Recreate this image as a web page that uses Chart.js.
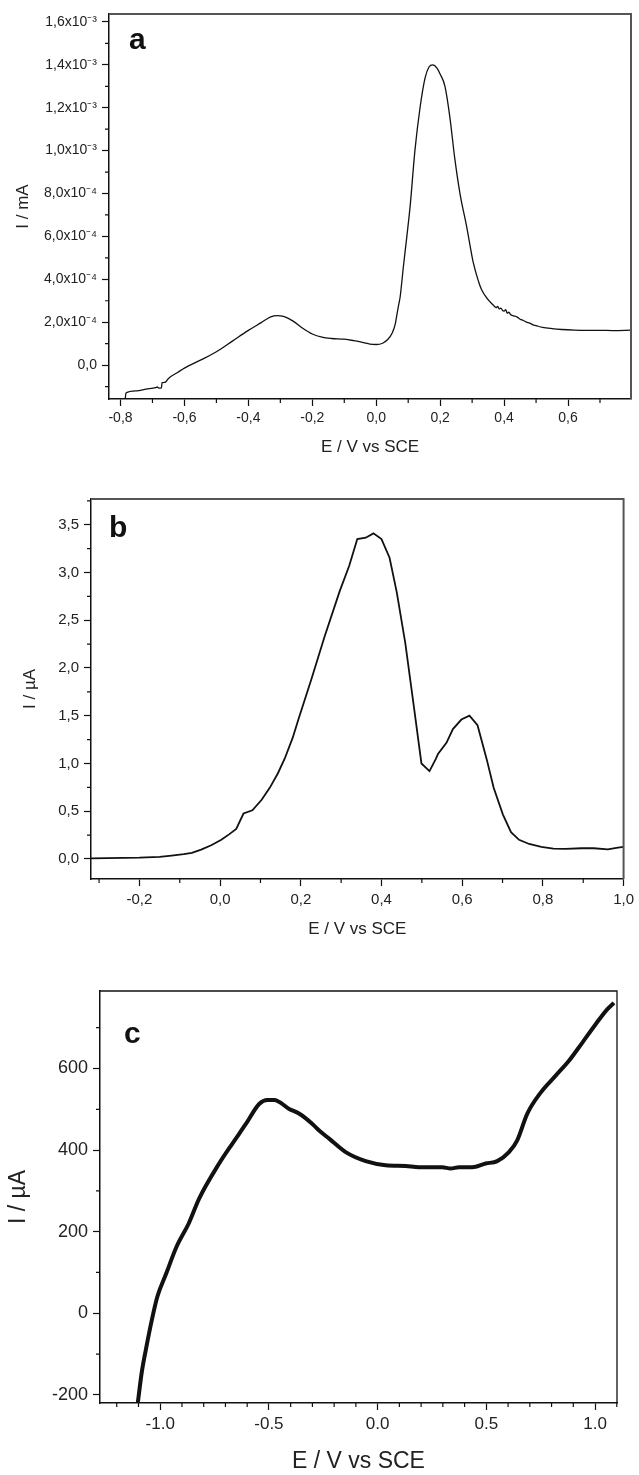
<!DOCTYPE html>
<html>
<head>
<meta charset="utf-8">
<script src="https://cdn.jsdelivr.net/npm/chart.js@4.4.1/dist/chart.umd.min.js"></script>
<style>
  html, body { margin: 0; padding: 0; background: #fff; }
  body { width: 639px; height: 1475px; position: relative; overflow: hidden; }
  canvas { position: absolute; left: 0; }
</style>
</head>
<body>
<canvas id="chart-a" width="639" height="460" style="top:0px"></canvas>
<canvas id="chart-b" width="639" height="500" style="top:460px"></canvas>
<canvas id="chart-c" width="639" height="515" style="top:960px"></canvas>
<script>
// Panel a - potential (V) and current (mA)
const aPotential = [-0.785, -0.783, -0.75, -0.72, -0.69, -0.685, -0.68, -0.672, -0.67, -0.66, -0.65, -0.62, -0.60,
    -0.55, -0.50, -0.45, -0.40, -0.36, -0.33, -0.31, -0.29, -0.26, -0.23, -0.20, -0.17, -0.14, -0.10, -0.07, -0.04,
    -0.02, 0.00, 0.02, 0.035, 0.05, 0.06, 0.064, 0.07, 0.075, 0.085, 0.095, 0.106, 0.121, 0.137, 0.153, 0.165, 0.177,
    0.19, 0.199, 0.215, 0.23, 0.246, 0.262, 0.283, 0.304, 0.32, 0.33, 0.35, 0.366, 0.375, 0.38, 0.385, 0.39, 0.395,
    0.40, 0.405, 0.41, 0.415, 0.42, 0.43, 0.44, 0.45, 0.46, 0.47, 0.48, 0.49, 0.50, 0.52, 0.55, 0.58, 0.62, 0.66,
    0.70, 0.74, 0.797];
const aCurrent = [-1.55e-4, -1.30e-4, -1.20e-4, -1.12e-4, -1.05e-4, -1.02e-4, -1.07e-4, -1.06e-4, -0.82e-4, -0.80e-4,
    -0.62e-4, -0.33e-4, -0.14e-4, 0.23e-4, 0.62e-4, 1.12e-4, 1.62e-4, 1.98e-4, 2.25e-4, 2.31e-4, 2.27e-4, 2.05e-4,
    1.72e-4, 1.45e-4, 1.30e-4, 1.24e-4, 1.21e-4, 1.14e-4, 1.05e-4, 0.98e-4, 0.96e-4, 1.02e-4, 1.18e-4, 1.50e-4,
    1.95e-4, 2.30e-4, 2.80e-4, 3.20e-4, 4.60e-4, 5.90e-4, 7.40e-4, 10.0e-4, 12.0e-4, 13.4e-4, 13.9e-4, 14.0e-4,
    13.85e-4, 13.6e-4, 13.0e-4, 11.6e-4, 9.6e-4, 8.0e-4, 6.45e-4, 4.75e-4, 3.9e-4, 3.5e-4, 3.05e-4, 2.8e-4, 2.68e-4,
    2.74e-4, 2.62e-4, 2.66e-4, 2.55e-4, 2.52e-4, 2.58e-4, 2.42e-4, 2.47e-4, 2.36e-4, 2.30e-4, 2.25e-4, 2.14e-4,
    2.08e-4, 2.00e-4, 1.96e-4, 1.88e-4, 1.84e-4, 1.76e-4, 1.70e-4, 1.66e-4, 1.63e-4, 1.62e-4, 1.62e-4, 1.61e-4,
    1.63e-4];
const aXTicks = [-0.8, -0.6, -0.4, -0.2, 0.0, 0.2, 0.4, 0.6];
const aXMinor = [-0.7, -0.5, -0.3, -0.1, 0.1, 0.3, 0.5, 0.7];
const aYTicks = [0, 2e-4, 4e-4, 6e-4, 8e-4, 1.0e-3, 1.2e-3, 1.4e-3, 1.6e-3];
const aYMinor = [-1e-4, 1e-4, 3e-4, 5e-4, 7e-4, 9e-4, 1.1e-3, 1.3e-3, 1.5e-3];

// Panel b - potential (V) and current (µA)
const bPotential = [-0.32, -0.2, -0.15, -0.12, -0.09, -0.07, -0.047, -0.022, 0.003, 0.023, 0.04, 0.058, 0.08, 0.103,
    0.123, 0.143, 0.16, 0.18, 0.194, 0.226, 0.259, 0.296, 0.32, 0.34, 0.361, 0.38, 0.40, 0.42, 0.438, 0.459, 0.479,
    0.499, 0.519, 0.535, 0.54, 0.561, 0.577, 0.598, 0.618, 0.638, 0.661, 0.678, 0.701, 0.721, 0.741, 0.766, 0.796,
    0.826, 0.856, 0.896, 0.926, 0.961, 0.986, 1.0];
const bCurrent = [0.007, 0.014, 0.022, 0.035, 0.05, 0.063, 0.098, 0.143, 0.2, 0.26, 0.315, 0.476, 0.51, 0.62, 0.745,
    0.895, 1.05, 1.27, 1.46, 1.88, 2.33, 2.80, 3.07, 3.35, 3.365, 3.41, 3.35, 3.155, 2.79, 2.26, 1.635, 1.0, 0.92,
    1.05, 1.1, 1.216, 1.36, 1.46, 1.50, 1.40, 1.04, 0.745, 0.465, 0.28, 0.2, 0.157, 0.126, 0.108, 0.105, 0.112,
    0.112, 0.10, 0.119, 0.126];
const bXTicks = [-0.2, 0.0, 0.2, 0.4, 0.6, 0.8, 1.0];
const bXMinor = [-0.3, -0.1, 0.1, 0.3, 0.5, 0.7, 0.9];
const bYTicks = [0.0, 0.5, 1.0, 1.5, 2.0, 2.5, 3.0, 3.5];
const bYMinor = [0.25, 0.75, 1.25, 1.75, 2.25, 2.75, 3.25, 3.75];

// Panel c - potential (V) and current (µA)
const cPotential = [-1.103, -1.085, -1.066, -1.038, -1.013, -0.972, -0.925, -0.869, -0.821, -0.729, -0.668, -0.606,
    -0.545, -0.507, -0.476, -0.407, -0.36, -0.30, -0.269, -0.223, -0.147, -0.055, 0.037, 0.129, 0.19, 0.297, 0.336,
    0.374, 0.435, 0.497, 0.55, 0.604, 0.642, 0.688, 0.75, 0.818, 0.88, 0.941, 1.002, 1.056, 1.087];
const cCurrent = [-219, -145, -89, -15, 41, 98, 163, 220, 281, 367, 416, 464, 513, 523, 523, 501, 489, 464, 448, 428,
    395, 373, 363, 361, 358, 358, 355, 358, 358, 367, 373, 395, 424, 489, 541, 582, 619, 663, 708, 745, 761];
const cXTicks = [-1.0, -0.5, 0.0, 0.5, 1.0];
const cXMinor = [-1.2, -1.1, -0.9, -0.8, -0.7, -0.6, -0.4, -0.3, -0.2, -0.1, 0.1, 0.2, 0.3, 0.4, 0.6, 0.7, 0.8, 0.9, 1.1];
const cYTicks = [-200, 0, 200, 400, 600];
const cYMinor = [-100, 100, 300, 500, 700];

const FONT = '"Liberation Sans", Arial, sans-serif';
Chart.defaults.font.family = FONT;
Chart.defaults.color = '#222';

const SUP = { '-': '\u207B', '0': '\u2070', '1': '\u00B9', '2': '\u00B2', '3': '\u00B3', '4': '\u2074',
    '5': '\u2075', '6': '\u2076', '7': '\u2077', '8': '\u2078', '9': '\u2079' };

function commaFmt(v) {
    return Number(v).toFixed(1).replace('.', ',');
}

function sciComma(v) {
    if (Math.abs(v) < 1e-12) return '0,0';
    const exp = Math.floor(Math.log10(Math.abs(v)) + 1e-9);
    const mant = v / Math.pow(10, exp);
    const sup = String(exp).split('').map(ch => SUP[ch]).join('');
    return mant.toFixed(1).replace('.', ',') + 'x10' + sup;
}

// Draws minor ticks, the top/right frame and the panel letter
const panelDecor = {
    id: 'panelDecor',
    afterDraw(chart, args, opts) {
        const { ctx, chartArea: area, scales } = chart;
        ctx.save();
        ctx.strokeStyle = '#111';
        ctx.lineWidth = opts.tickWidth;
        ctx.beginPath();
        opts.minorX.forEach(v => {
            const px = scales.x.getPixelForValue(v);
            ctx.moveTo(px, area.bottom);
            ctx.lineTo(px, area.bottom + opts.minorLength);
        });
        opts.minorY.forEach(v => {
            const py = scales.y.getPixelForValue(v);
            if (py < area.top - 0.5 || py > area.bottom + 0.5) return;
            ctx.moveTo(area.left, py);
            ctx.lineTo(area.left - opts.minorLength, py);
        });
        ctx.stroke();

        ctx.strokeStyle = opts.frameColor;
        ctx.lineWidth = opts.frameWidth;
        ctx.beginPath();
        ctx.moveTo(area.left, area.top);
        ctx.lineTo(area.right, area.top);
        ctx.lineTo(area.right, area.bottom);
        ctx.stroke();

        ctx.fillStyle = '#111';
        ctx.font = 'bold ' + opts.letterSize + 'px ' + FONT;
        ctx.textBaseline = 'alphabetic';
        ctx.textAlign = 'left';
        ctx.fillText(opts.letter, area.left + opts.letterX, area.top + opts.letterY);
        ctx.restore();
    }
};

function toPoints(xs, ys) {
    return xs.map((x, i) => ({ x: x, y: ys[i] }));
}

function makePanel(canvasId, p) {
    return new Chart(document.getElementById(canvasId), {
        type: 'line',
        data: {
            datasets: [{
                data: toPoints(p.xs, p.ys),
                borderColor: '#111',
                borderWidth: p.lineWidth,
                pointRadius: 0,
                tension: p.tension,
                cubicInterpolationMode: p.monotone ? 'monotone' : 'default',
                fill: false
            }]
        },
        options: {
            responsive: false,
            animation: false,
            events: [],
            layout: { padding: { top: p.padTop, right: p.padRight, left: 0, bottom: 0 } },
            plugins: {
                legend: { display: false },
                tooltip: { enabled: false },
                panelDecor: {
                    minorX: p.minorX, minorY: p.minorY, minorLength: 4, tickWidth: 1.2,
                    frameColor: p.frameColor, frameWidth: p.frameWidth,
                    letter: p.letter, letterSize: p.letterSize, letterX: p.letterX, letterY: p.letterY
                }
            },
            scales: {
                x: {
                    type: 'linear',
                    min: p.xMin,
                    max: p.xMax,
                    afterBuildTicks: axis => { axis.ticks = p.xTicks.map(v => ({ value: v })); },
                    afterFit: axis => { axis.height = p.xAxisHeight; },
                    ticks: {
                        autoSkip: false, maxRotation: 0, minRotation: 0, padding: p.xTickPad,
                        color: '#222', font: { size: p.xTickSize },
                        callback: p.xFmt
                    },
                    grid: { drawOnChartArea: false, drawTicks: true, tickLength: 7, tickColor: '#111', tickWidth: 1.2 },
                    border: { display: true, color: '#111', width: 1.5 },
                    title: {
                        display: true, text: 'E / V vs SCE', color: '#222',
                        font: { size: p.titleSize }, padding: { top: 0, bottom: p.xTitlePad }
                    }
                },
                y: {
                    type: 'linear',
                    min: p.yMin,
                    max: p.yMax,
                    afterBuildTicks: axis => { axis.ticks = p.yTicks.map(v => ({ value: v })); },
                    afterFit: axis => { axis.width = p.yAxisWidth; },
                    ticks: {
                        autoSkip: false, padding: p.yTickPad,
                        color: '#222', font: { size: p.yTickSize },
                        callback: p.yFmt
                    },
                    grid: { drawOnChartArea: false, drawTicks: true, tickLength: 7, tickColor: '#111', tickWidth: 1.2 },
                    border: { display: true, color: '#111', width: 1.5 },
                    title: {
                        display: true, text: p.yTitle, color: '#222',
                        font: { size: p.titleSize }, padding: { top: p.yTitlePad, bottom: 0 }
                    }
                }
            }
        },
        plugins: [panelDecor]
    });
}

makePanel('chart-a', {
    xs: aPotential, ys: aCurrent, lineWidth: 1.3, tension: 0.4, monotone: true,
    xMin: -0.836, xMax: 0.797, yMin: -1.58e-4, yMax: 1.637e-3,
    xTicks: aXTicks, yTicks: aYTicks, minorX: aXMinor, minorY: aYMinor,
    xFmt: commaFmt, yFmt: sciComma, yTitle: 'I / mA',
    padTop: 14, padRight: 8, xAxisHeight: 61, yAxisWidth: 109,
    xTickPad: 4, yTickPad: 5, xTickSize: 14, yTickSize: 14, titleSize: 17, xTitlePad: 2, yTitlePad: 13,
    frameColor: '#555', frameWidth: 2, letter: 'a', letterSize: 30, letterX: 20, letterY: 35
});

makePanel('chart-b', {
    xs: bPotential, ys: bCurrent, lineWidth: 1.8, tension: 0, monotone: false,
    xMin: -0.32, xMax: 1.0, yMin: -0.21, yMax: 3.77,
    xTicks: bXTicks, yTicks: bYTicks, minorX: bXMinor, minorY: bYMinor,
    xFmt: commaFmt, yFmt: commaFmt, yTitle: 'I / \u00B5A',
    padTop: 39, padRight: 9, xAxisHeight: 81, yAxisWidth: 91,
    xTickPad: 5, yTickPad: 5, xTickSize: 15, yTickSize: 15, titleSize: 17, xTitlePad: 20, yTitlePad: 20,
    frameColor: '#555', frameWidth: 2, letter: 'b', letterSize: 30, letterX: 18, letterY: 38
});

makePanel('chart-c', {
    xs: cPotential, ys: cCurrent, lineWidth: 4, tension: 0.3, monotone: true,
    xMin: -1.277, xMax: 1.101, yMin: -220, yMax: 790,
    xTicks: cXTicks, yTicks: cYTicks, minorX: cXMinor, minorY: cYMinor,
    xFmt: v => Number(v).toFixed(1), yFmt: v => String(v), yTitle: 'I / \u00B5A',
    padTop: 31, padRight: 22, xAxisHeight: 72, yAxisWidth: 100,
    xTickPad: 4, yTickPad: 5, xTickSize: 17, yTickSize: 18, titleSize: 23, xTitlePad: 0, yTitlePad: 5,
    frameColor: '#111', frameWidth: 1.3, letter: 'c', letterSize: 30, letterX: 24, letterY: 52
});
</script>
</body>
</html>
